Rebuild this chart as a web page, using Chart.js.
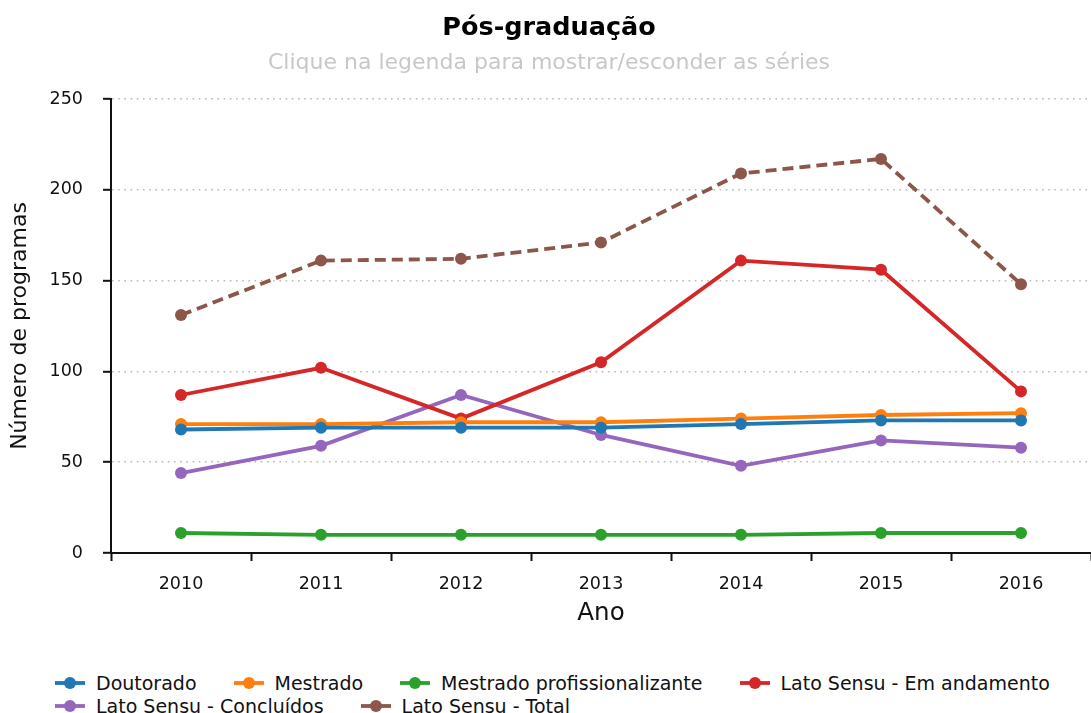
<!DOCTYPE html>
<html>
<head>
<meta charset="utf-8">
<title>Pós-graduação</title>
<script src="https://cdn.jsdelivr.net/npm/chart.js@4/dist/chart.umd.min.js"></script>
<style>
    html, body { margin: 0; padding: 0; overflow: hidden; background: #fff; }
    #wrap { position: relative; width: 1098px; height: 713px; }
    #legend {
        position: absolute; top: 671px; left: 55px; width: 1005px;
        display: flex; flex-wrap: wrap; column-gap: 37px;
        font-family: "DejaVu Sans", sans-serif; font-size: 19px; color: #111;
    }
    .item { display: flex; align-items: center; height: 23px; cursor: pointer; }
    .item svg { margin-right: 11px; }
    .item.off { opacity: 0.35; }
</style>
</head>
<body>
<div id="wrap">
    <canvas id="chart-pos" width="1098" height="628"></canvas>
    <div id="legend"></div>
</div>
<script>
// Data
var anos = ['2010', '2011', '2012', '2013', '2014', '2015', '2016'];
var doutorado = [68, 69, 69, 69, 71, 73, 73];
var mestrado = [71, 71, 72, 72, 74, 76, 77];
var mestradoProf = [11, 10, 10, 10, 10, 11, 11];
var latoAndamento = [87, 102, 74, 105, 161, 156, 89];
var latoConcluidos = [44, 59, 87, 65, 48, 62, 58];
var latoTotal = [131, 161, 162, 171, 209, 217, 148];
var yTicks = [0, 50, 100, 150, 200, 250];

var font = "'DejaVu Sans', sans-serif";

function serie(label, data, color, dash) {
    return {
        label: label,
        data: data,
        borderColor: color,
        backgroundColor: color,
        borderWidth: 3.8,
        borderDash: dash || [],
        pointRadius: 6,
        pointHoverRadius: 7,
        pointBorderWidth: 0,
        tension: 0
    };
}

var ctx = document.getElementById('chart-pos').getContext('2d');
var chartPos = new Chart(ctx, {
    type: 'line',
    data: {
        labels: anos,
        datasets: [
            serie('Doutorado', doutorado, '#1f77b4'),
            serie('Mestrado', mestrado, '#ff7f0e'),
            serie('Mestrado profissionalizante', mestradoProf, '#2ca02c'),
            serie('Lato Sensu - Em andamento', latoAndamento, '#d62728'),
            serie('Lato Sensu - Concluídos', latoConcluidos, '#9467bd'),
            serie('Lato Sensu - Total', latoTotal, '#8c564b', [11, 6])
        ]
    },
    options: {
        responsive: false,
        animation: false,
        plugins: {
            legend: { display: false },
            title: {
                display: true,
                text: 'Pós-graduação',
                color: '#000',
                font: { family: font, size: 25.5, weight: 'bold' },
                padding: { top: 13, bottom: 0 }
            },
            subtitle: {
                display: true,
                text: 'Clique na legenda para mostrar/esconder as séries',
                color: '#c8c8c8',
                font: { family: font, size: 22 },
                padding: { top: 6, bottom: 23 }
            }
        },
        scales: {
            x: {
                type: 'category',
                offset: true,
                grid: {
                    offset: true,
                    drawOnChartArea: false,
                    tickLength: 8,
                    tickColor: '#111',
                    tickWidth: 2
                },
                border: { color: '#111', width: 2 },
                ticks: { color: '#111', padding: 13, font: { family: font, size: 17.5 } },
                title: {
                    display: true,
                    text: 'Ano',
                    color: '#111',
                    font: { family: font, size: 24.5 },
                    padding: { top: 4, bottom: 0 }
                },
                afterFit: function (scale) { scale.height = 75; }
            },
            y: {
                min: 0,
                max: 250,
                afterBuildTicks: function (scale) {
                    scale.ticks = yTicks.map(function (v) { return { value: v }; });
                },
                grid: {
                    color: function (c) { return c.tick && c.tick.value === 0 ? 'rgba(0,0,0,0)' : '#b8b8b8'; },
                    lineWidth: 1.6,
                    tickLength: 8,
                    tickColor: '#111',
                    tickWidth: 2
                },
                border: { color: '#111', width: 2, dash: [1.6, 4.6] },
                ticks: { color: '#111', padding: 20, font: { family: font, size: 17.5 } },
                title: {
                    display: true,
                    text: 'Número de programas',
                    color: '#111',
                    font: { family: font, size: 22 },
                    padding: { top: 7, bottom: 4 }
                },
                afterFit: function (scale) { scale.width = 111; }
            }
        }
    }
});

// HTML legend so the second row starts at the left like the reference
var legendDiv = document.getElementById('legend');
chartPos.data.datasets.forEach(function (ds, i) {
    var item = document.createElement('div');
    item.className = 'item';
    item.innerHTML =
        '<svg width="30" height="14"><line x1="0" y1="7" x2="30" y2="7" stroke="' + ds.borderColor +
        '" stroke-width="3.8"/><circle cx="15" cy="7" r="6" fill="' + ds.borderColor + '"/></svg>' +
        '<span>' + ds.label + '</span>';
    item.addEventListener('click', function () {
        var vis = chartPos.isDatasetVisible(i);
        chartPos.setDatasetVisibility(i, !vis);
        item.classList.toggle('off', vis);
        chartPos.update();
    });
    legendDiv.appendChild(item);
});
</script>
</body>
</html>
